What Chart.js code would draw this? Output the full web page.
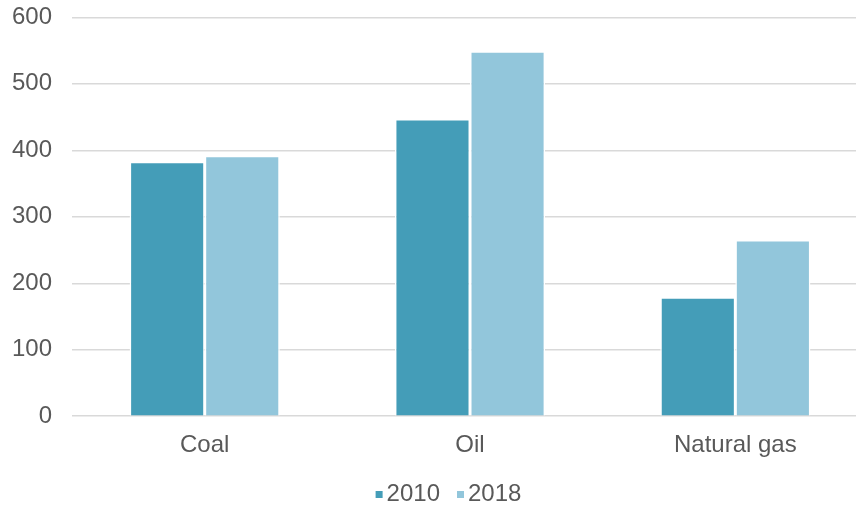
<!DOCTYPE html>
<html>
<head>
<meta charset="utf-8">
<script src="https://cdn.jsdelivr.net/npm/chart.js@4/dist/chart.umd.min.js"></script>
<style>
  html, body { margin: 0; padding: 0; background: #fff; overflow: hidden; }
  #wrap { width: 856px; height: 506px; overflow: hidden; position: relative; }
  #box { width: 900px; height: 523px; position: absolute; left: 0; top: -17px; }
</style>
</head>
<body>
<div id="wrap"><div id="box"><canvas id="c"></canvas></div></div>
<script>
const categories = ['Coal', 'Oil', 'Natural gas'];
const seriesNames = ['2010', '2018'];
const values2010 = [383, 447, 179];
const values2018 = [392, 549, 265];
const yTicks = [0, 100, 200, 300, 400, 500, 600];

const textColor = '#595959';
const fontFamily = '"Liberation Sans", Arial, sans-serif';

// Compact legend: small square swatch, tight gap to the label, centred under the plot
const compactLegend = {
  id: 'compactLegend',
  afterDraw(chart) {
    const ctx = chart.ctx;
    const box = 7, gapText = 4, gapItem = 17;
    ctx.save();
    ctx.font = '24px ' + fontFamily;
    ctx.textBaseline = 'middle';
    const items = chart.data.datasets.map(ds => ({
      text: ds.label, color: ds.backgroundColor, w: ctx.measureText(ds.label).width
    }));
    const total = items.reduce((s, it) => s + box + gapText + it.w, 0) + gapItem * (items.length - 1);
    let x = 448.5 - total / 2;
    const y = 511.5;
    items.forEach(it => {
      ctx.fillStyle = it.color;
      ctx.fillRect(x, y - box / 2, box, box);
      x += box + gapText;
      ctx.fillStyle = textColor;
      ctx.textAlign = 'left';
      ctx.fillText(it.text, x, y);
      x += it.w + gapItem;
    });
    ctx.restore();
  }
};

new Chart(document.getElementById('c'), {
  type: 'bar',
  data: {
    labels: categories,
    datasets: [
      { label: seriesNames[0], data: values2010, backgroundColor: '#449DB8',
        borderColor: '#ffffff', borderWidth: 1.5, borderSkipped: 'start' },
      { label: seriesNames[1], data: values2018, backgroundColor: '#92C6DB',
        borderColor: '#ffffff', borderWidth: 1.5, borderSkipped: 'start' }
    ]
  },
  plugins: [compactLegend],
  options: {
    responsive: true,
    maintainAspectRatio: false,
    animation: false,
    layout: { padding: { left: -8, right: 32, top: 0, bottom: 31 } },
    datasets: { bar: { categoryPercentage: 0.566, barPercentage: 1.0 } },
    scales: {
      x: {
        grid: { display: false, drawTicks: false },
        border: { display: false },
        ticks: { color: textColor, font: { family: fontFamily, size: 24 }, padding: 15 }
      },
      y: {
        min: 0, max: 600,
        afterBuildTicks: (axis) => { axis.ticks = yTicks.map(v => ({ value: v })); },
        grid: { color: '#D9D9D9', lineWidth: 1.5, drawTicks: false },
        border: { display: false },
        ticks: { color: textColor, font: { family: fontFamily, size: 24 }, padding: 20 }
      }
    },
    plugins: {
      legend: { display: false },
      tooltip: { enabled: false }
    }
  }
});
</script>
</body>
</html>
